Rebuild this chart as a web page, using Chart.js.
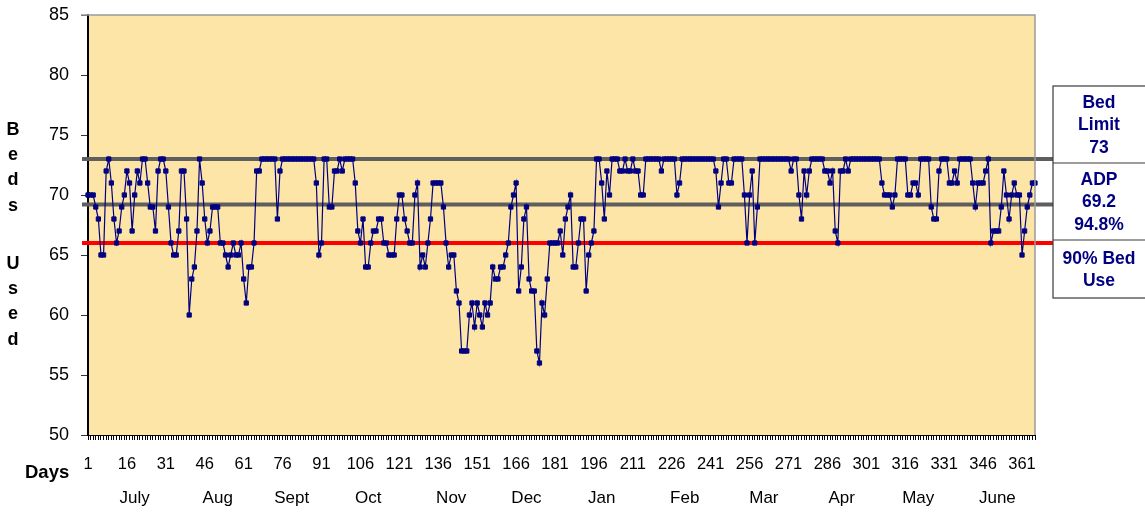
<!DOCTYPE html>
<html>
<head>
<meta charset="utf-8">
<script src="https://cdn.jsdelivr.net/npm/chart.js@4.4.1/dist/chart.umd.min.js"></script>
<style>
  html, body { margin: 0; padding: 0; background: #ffffff; }
  #wrap { width: 1145px; height: 514px; position: relative; }
</style>
</head>
<body>
<div id="wrap"><canvas id="beds" width="1145" height="514"></canvas></div>
<script>
// Daily count of beds in use, July through June (366 days)
const bedsUsed = [
  70,70,70,69,68,65,65,72,73,71, 68,66,67,69,70,72,71,67,70,72,
  71,73,73,71,69,69,67,72,73,73, 72,69,66,65,65,67,72,72,68,60,
  63,64,67,73,71,
  68,66,67,69,69,69,66,66,65,64, 65,66,65,65,66,63,61,64,64,66,
  72,72,73,73,73,73,73,73,68,72, 73,73,73,73,73,73,73,73,73,73,
  73,73,73,71,65,66,73,
  73,69,69,72,72,73,72,73,73,73, 73,71,67,66,68,64,64,66,67,67,
  68,68,66,66,65,65,65,68,70,70, 68,67,66,66,70,71,64,65,64,66,
  68,71,71,71,71,69,
  66,64,65,65,62,61,57,57,57,60, 61,59,61,60,59,61,60,61,64,63,
  63,64,64,65,66,69,70,71,62,64, 68,69,63,62,62,57,56,61,60,63,
  66,66,66,66,67,65,68,69,70,64, 64,66,68,68,62,65,66,67,
  73,73,71,68,72,70,73,73,73,72, 72,73,72,72,73,72,72,70,70,73,
  73,73,73,73,73,72,73,73,73,73, 73,70,71,73,
  73,73,73,73,73,73,73,73,73,73,73,73,
  72,69,71,73,73,71,71,73,73,73,73,70,66,70,72,66,69,73,
  73,73,73,73,73,73,73,73,73,73,73,
  72,73,73,70,68,72,
  70,72,73,73,73,73,73,72,72,71,72,67,66,72,72,73,72,
  73,73,73,73,73,73,73,73,73,73,73,73,
  71,70,70,70,69,70,73,73,73,73,70,70,71,71,70,73,73,
  73,73,69,68,68,72,73,73,73,71, 71,72,71,73,73,73,73,73,71,69,
  71,71,71,72,73,66,67,67,67,69, 72,70,68,70,71,70,70,65,67,69,
  70,71,71
];

// Day numbers used as categories; every 15th one carries a label
const days = bedsUsed.map((_, i) => String(i + 1));
const dayLabelStep = 15;

// Month names and the day each name is centred on
const monthNames = ['July', 'Aug', 'Sept', 'Oct', 'Nov', 'Dec', 'Jan', 'Feb', 'Mar', 'Apr', 'May', 'June'];
const monthLabelDay = [19, 51, 79.5, 109, 141, 170, 199, 231, 261.5, 291.5, 321, 351.5];

// Reference levels
const bedLimit = 73;
const averageDailyPop = 69.2;
const averageUsePct = '94.8%';
const ninetyPctUse = 66;

// Y axis range
const yMin = 50, yMax = 85, yStep = 5;

const FONT = "'Liberation Sans', Arial, Helvetica, sans-serif";
const NAVY = '#000080';
const PLOT_BG = '#FCE5A7';

const refLines = [
  { value: bedLimit, color: '#5e5e5e' },
  { value: averageDailyPop, color: '#5e5e5e' },
  { value: ninetyPctUse, color: '#ff0000' }
];

const panel = { left: 1053, right: 1146, top: 86, bottom: 298, dividers: [163, 240], lineStep: 22.5 };
const panelText = [
  ['Bed', 'Limit', String(bedLimit)],
  ['ADP', averageDailyPop.toFixed(1), averageUsePct],
  ['90% Bed', 'Use']
];

// Plot area fill and frame
const backdrop = {
  id: 'backdrop',
  beforeDraw(chart) {
    const { ctx, chartArea: a } = chart;
    ctx.save();
    ctx.fillStyle = '#ffffff';
    ctx.fillRect(0, 0, chart.width, chart.height);
    ctx.fillStyle = PLOT_BG;
    ctx.fillRect(a.left, a.top, a.right - a.left, a.bottom - a.top);
    ctx.restore();
  },
  afterDraw(chart) {
    const { ctx, chartArea: a } = chart;
    ctx.save();
    ctx.strokeStyle = '#9a9a9a';
    ctx.lineWidth = 1.5;
    ctx.beginPath();
    ctx.moveTo(a.left - 7, a.top);
    ctx.lineTo(a.right, a.top);
    ctx.lineTo(a.right, a.bottom);
    ctx.stroke();
    ctx.restore();
  }
};

// Horizontal reference lines running out to the side panel
const referenceLines = {
  id: 'referenceLines',
  beforeDatasetsDraw(chart) {
    const { ctx, chartArea: a, scales: { y } } = chart;
    ctx.save();
    ctx.lineWidth = 4;
    refLines.forEach(r => {
      const py = y.getPixelForValue(r.value);
      ctx.strokeStyle = r.color;
      ctx.beginPath();
      ctx.moveTo(a.left - 6, py);
      ctx.lineTo(panel.left, py);
      ctx.stroke();
    });
    ctx.restore();
  }
};

// Side panel, axis captions and month names
const captions = {
  id: 'captions',
  afterDraw(chart) {
    const { ctx, scales: { x } } = chart;
    ctx.save();

    // side panel boxes
    ctx.strokeStyle = '#3a3a3a';
    ctx.lineWidth = 1.2;
    ctx.strokeRect(panel.left, panel.top, panel.right - panel.left, panel.bottom - panel.top);
    panel.dividers.forEach(dy => {
      ctx.beginPath();
      ctx.moveTo(panel.left, dy);
      ctx.lineTo(panel.right, dy);
      ctx.stroke();
    });
    const bounds = [panel.top, ...panel.dividers, panel.bottom];
    ctx.fillStyle = NAVY;
    ctx.font = `bold 17.5px ${FONT}`;
    ctx.textAlign = 'center';
    ctx.textBaseline = 'middle';
    const cx = (panel.left + 1145) / 2;
    panelText.forEach((lines, i) => {
      const mid = (bounds[i] + bounds[i + 1]) / 2 + 1;
      lines.forEach((t, j) => {
        ctx.fillText(t, cx, mid + (j - (lines.length - 1) / 2) * panel.lineStep);
      });
    });

    // vertical "Beds Used" caption, one letter per line
    ctx.fillStyle = '#000000';
    ctx.font = `bold 18px ${FONT}`;
    ctx.textAlign = 'center';
    ctx.textBaseline = 'alphabetic';
    const words = ['Beds', 'Used'];
    const wordStart = [135, 269];
    words.forEach((w, wi) => {
      [...w].forEach((ch, k) => ctx.fillText(ch, 13, wordStart[wi] + k * 25.2));
    });

    // "Days" caption
    ctx.font = `bold 18.5px ${FONT}`;
    ctx.textAlign = 'left';
    ctx.fillText('Days', 25, 478);

    // month names
    ctx.font = `17px ${FONT}`;
    ctx.textAlign = 'center';
    monthNames.forEach((m, i) => {
      ctx.fillText(m, x.getPixelForValue(monthLabelDay[i] - 1), 503);
    });
    ctx.restore();
  }
};

new Chart(document.getElementById('beds'), {
  type: 'line',
  data: {
    labels: days,
    datasets: [{
      data: bedsUsed,
      borderColor: NAVY,
      borderWidth: 1.2,
      pointStyle: 'rect',
      pointRadius: 3,
      pointBorderWidth: 1,
      pointBackgroundColor: NAVY,
      pointBorderColor: NAVY,
      tension: 0,
      clip: false
    }]
  },
  options: {
    responsive: false,
    animation: false,
    devicePixelRatio: 1,
    layout: { padding: { top: 15, right: 110, bottom: 0, left: 0 } },
    plugins: { legend: { display: false }, tooltip: { enabled: false } },
    scales: {
      x: {
        type: 'category',
        offset: false,
        grid: { display: true, drawOnChartArea: false, drawTicks: true, tickLength: 5, color: '#000000', lineWidth: 1 },
        border: { display: true, color: '#000000', width: 1 },
        ticks: {
          autoSkip: false, maxRotation: 0, minRotation: 0, padding: 15,
          color: '#000000', font: { family: FONT, size: 16.5 },
          callback: (v, i) => (i % dayLabelStep === 0 ? days[i] : '')
        },
        afterFit: s => { s.height = 79; s.paddingLeft = 0; s.paddingRight = 0; }
      },
      y: {
        min: yMin, max: yMax,
        ticks: { stepSize: yStep, padding: 12, color: '#000000', font: { family: FONT, size: 18 } },
        grid: { display: true, drawOnChartArea: false, drawTicks: true, tickLength: 7, color: '#333333' },
        border: { display: true, color: '#000000', width: 2 },
        afterFit: s => { s.width = 88; s.paddingTop = 0; s.paddingBottom = 0; }
      }
    }
  },
  plugins: [backdrop, referenceLines, captions]
});
</script>
</body>
</html>
